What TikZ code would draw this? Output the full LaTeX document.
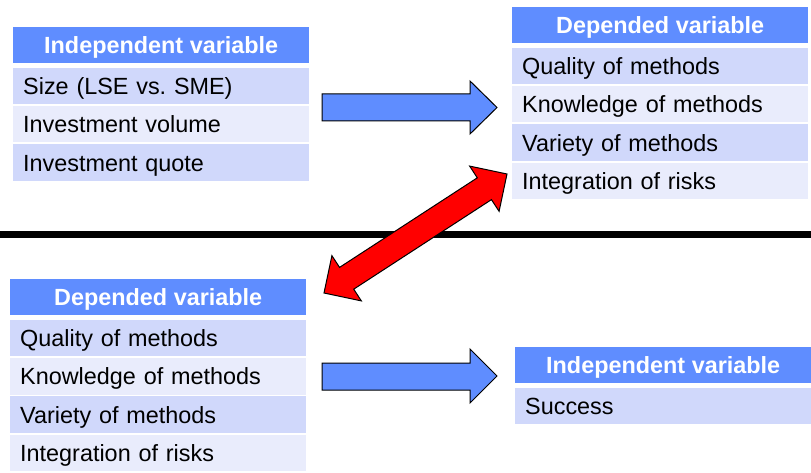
\documentclass[tikz,border=0pt]{standalone}
\usepackage{fontspec}
\setmainfont{Liberation Sans}
\usetikzlibrary{positioning,calc}

\definecolor{hdrblue}{RGB}{95,141,255}
\definecolor{rowdark}{RGB}{208,216,251}
\definecolor{rowlight}{RGB}{233,236,252}

\begin{document}
\begin{tikzpicture}[x=1pt,y=-1pt,
        font=\fontsize{23.4}{28}\selectfont,
        hdr/.style={fill=hdrblue,text=white,font=\fontsize{23.4}{28}\selectfont\bfseries,
            minimum width=296pt,minimum height=36pt,inner sep=0pt,
            text height=17pt,text depth=0pt,anchor=north west},
        cell/.style={minimum width=296pt,minimum height=36.5pt,inner xsep=10pt,inner ysep=0pt,
            text width=276pt,align=left,text height=17pt,text depth=0pt},
        darkrow/.style={cell,fill=rowdark},
        lightrow/.style={cell,fill=rowlight},
        bigarrow/.style={draw=black,line width=1pt,line join=miter}]
        \useasboundingbox (0,0) rectangle (811,473);

        % Top left table
        \node[hdr] (hA) at (13,27) {Independent variable};
        \node[darkrow,below=4pt of hA] (a1) {Size (LSE vs.\ SME)};
        \node[lightrow,below=1.5pt of a1] (a2) {Investment volume};
        \node[darkrow,below=1.5pt of a2] (a3) {Investment quote};

        % Top right table
        \node[hdr] (hB) at (512,7) {Depended variable};
        \node[darkrow,below=4pt of hB] (b1) {Quality of methods};
        \node[lightrow,below=1.5pt of b1] (b2) {Knowledge of methods};
        \node[darkrow,below=1.5pt of b2] (b3) {Variety of methods};
        \node[lightrow,below=1.5pt of b3] (b4) {Integration of risks};

        % Bottom left table
        \node[hdr] (hC) at (10,279) {Depended variable};
        \node[darkrow,below=4pt of hC] (c1) {Quality of methods};
        \node[lightrow,below=1.5pt of c1] (c2) {Knowledge of methods};
        \node[darkrow,below=1.5pt of c2] (c3) {Variety of methods};
        \node[lightrow,below=1.5pt of c3] (c4) {Integration of risks};

        % Bottom right table
        \node[hdr] (hD) at (515,347) {Independent variable};
        \node[darkrow,below=4pt of hD] (d1) {Success};

        % Separator
        \coordinate (sepl) at (0,234.5);
        \coordinate (sepr) at (811,234.5);
        \draw[line width=7pt] (sepl) -- (sepr);

        % Blue arrows
        \draw[bigarrow,fill=hdrblue] (322,94) -- (470,94) -- (470,81) -- (497,107.5)
            -- (470,134) -- (470,121) -- (322,121) -- cycle;
        \draw[bigarrow,fill=hdrblue] (322,363) -- (470,363) -- (470,349) -- (497,376)
            -- (470,403) -- (470,390) -- (322,390) -- cycle;

        % Red double arrow
        \coordinate (ra) at (324,293);
        \coordinate (rb) at (507,174);
        \draw[bigarrow,fill=red] (ra)
            -- ($(ra)!27pt!(rb)!27pt!90:(rb)$) -- ($(ra)!27pt!(rb)!13pt!90:(rb)$)
            -- ($(rb)!27pt!(ra)!13pt!-90:(ra)$) -- ($(rb)!27pt!(ra)!27pt!-90:(ra)$)
            -- (rb)
            -- ($(rb)!27pt!(ra)!27pt!90:(ra)$) -- ($(rb)!27pt!(ra)!13pt!90:(ra)$)
            -- ($(ra)!27pt!(rb)!13pt!-90:(rb)$) -- ($(ra)!27pt!(rb)!27pt!-90:(rb)$)
            -- cycle;
\end{tikzpicture}
\end{document}
